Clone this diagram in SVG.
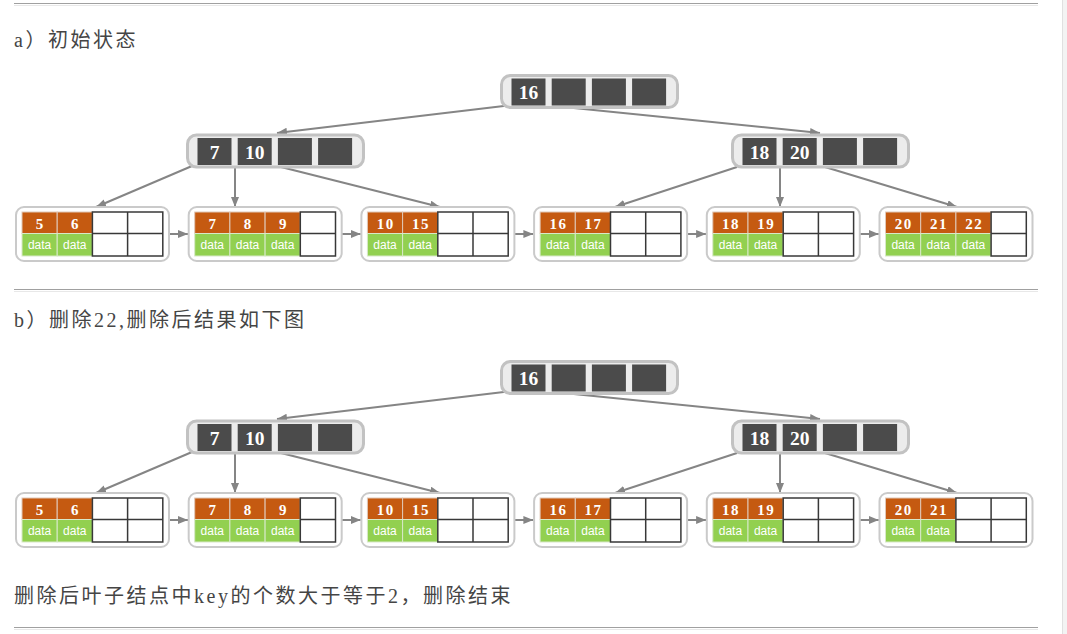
<svg xmlns="http://www.w3.org/2000/svg" width="1067" height="634" viewBox="0 0 1067 634">
<defs>
<marker id="ah" markerUnits="userSpaceOnUse" markerWidth="11" markerHeight="9" refX="10" refY="4" orient="auto">
<path d="M0,0 L10,4 L0,8 z" fill="#858585"/>
</marker>
<style>
.txt{font-family:"Liberation Serif","Noto Sans CJK SC",serif;font-size:20px;letter-spacing:2.5px;fill:#454545}
.hr1{stroke:#a0a0a0;stroke-width:1.2}
.hr2{stroke:#e8e8e8;stroke-width:1}
.nf{fill:#ececec;stroke:#c2c2c2;stroke-width:3}
.nc{fill:#4b4b4b}
.nt{font-family:"Liberation Serif",serif;font-weight:bold;font-size:19.5px;fill:#ffffff;text-anchor:middle}
.lf{fill:#ffffff;stroke:#cacaca;stroke-width:2}
.k{fill:#C55A11;stroke:#e0c8b8;stroke-width:1}
.d{fill:#92D050;stroke:#d8e8c8;stroke-width:1}
.kt{font-family:"Liberation Serif",serif;font-weight:bold;font-size:15px;letter-spacing:1.5px;fill:#ffffff;text-anchor:middle}
.dt{font-family:"Liberation Sans",sans-serif;font-size:12px;fill:#ffffff;text-anchor:middle}
.e{fill:#ffffff;stroke:#383838;stroke-width:1.5}
.eg{fill:none;stroke:#383838;stroke-width:1.5}
.cn{stroke:#858585;stroke-width:2;fill:none;marker-end:url(#ah)}
</style>
</defs>
<rect x="0" y="0" width="1067" height="634" fill="#ffffff"/>
<rect x="1062" y="0" width="5" height="634" fill="#f3f3f3"/>
<line x1="1062.5" y1="0" x2="1062.5" y2="634" stroke="#e0e0e0" stroke-width="1"/>

<g id="rules">
<line class="hr1" x1="14" y1="3.5" x2="1038" y2="3.5"/><line class="hr2" x1="14" y1="5.5" x2="1038" y2="5.5"/>
<line class="hr1" x1="14" y1="289.5" x2="1038" y2="289.5"/><line class="hr2" x1="14" y1="291.5" x2="1038" y2="291.5"/>
<line class="hr1" x1="14" y1="627.5" x2="1038" y2="627.5"/><line class="hr2" x1="14" y1="629.5" x2="1038" y2="629.5"/>
</g>

<g id="labels">
<text class="txt" x="14" y="47">a）初始状态</text>
<text class="txt" x="14" y="327">b）删除22,删除后结果如下图</text>
<text class="txt" x="14" y="603">删除后叶子结点中key的个数大于等于2，删除结束</text>
</g>

<!-- ===== Section a ===== -->
<g id="a-connectors">
<line class="cn" x1="508" y1="105.5" x2="277" y2="133"/>
<line class="cn" x1="549" y1="105.5" x2="820" y2="133"/>
<line class="cn" x1="192" y1="166" x2="96" y2="207"/>
<line class="cn" x1="235" y1="165" x2="235" y2="207"/>
<line class="cn" x1="277" y1="166" x2="440" y2="207"/>
<line class="cn" x1="737" y1="167" x2="615" y2="207"/>
<line class="cn" x1="780" y1="166" x2="780" y2="207"/>
<line class="cn" x1="825" y1="167" x2="957" y2="207"/>
<line class="cn" x1="169" y1="234" x2="188" y2="234"/>
<line class="cn" x1="341.7" y1="234" x2="360.7" y2="234"/>
<line class="cn" x1="514.4" y1="234" x2="533.4" y2="234"/>
<line class="cn" x1="687.1" y1="234" x2="706.1" y2="234"/>
<line class="cn" x1="859.8" y1="234" x2="878.8" y2="234"/>
</g>

<g id="a-root" transform="translate(500,74)">
<rect class="nf" x="1.5" y="1.5" width="176" height="32" rx="9"/>
<rect class="nc" x="11.5" y="4.5" width="34" height="27"/><rect class="nc" x="51.7" y="4.5" width="34" height="27"/><rect class="nc" x="91.9" y="4.5" width="34" height="27"/><rect class="nc" x="132.1" y="4.5" width="34" height="27"/>
<text class="nt" x="28.5" y="25">16</text>
</g>
<g id="a-int-left" transform="translate(186,133.5)">
<rect class="nf" x="1.5" y="1.5" width="176" height="32" rx="9"/>
<rect class="nc" x="11.5" y="4.5" width="34" height="27"/><rect class="nc" x="51.7" y="4.5" width="34" height="27"/><rect class="nc" x="91.9" y="4.5" width="34" height="27"/><rect class="nc" x="132.1" y="4.5" width="34" height="27"/>
<text class="nt" x="28.5" y="25">7</text><text class="nt" x="68.7" y="25">10</text>
</g>
<g id="a-int-right" transform="translate(731,133.5)">
<rect class="nf" x="1.5" y="1.5" width="176" height="32" rx="9"/>
<rect class="nc" x="11.5" y="4.5" width="34" height="27"/><rect class="nc" x="51.7" y="4.5" width="34" height="27"/><rect class="nc" x="91.9" y="4.5" width="34" height="27"/><rect class="nc" x="132.1" y="4.5" width="34" height="27"/>
<text class="nt" x="28.5" y="25">18</text><text class="nt" x="68.7" y="25">20</text>
</g>

<g id="a-leaf1" transform="translate(16,207)">
<rect class="lf" x="0" y="0" width="153" height="54" rx="8"/>
<rect class="k" x="6" y="5" width="35.2" height="21.5"/><rect class="k" x="41.2" y="5" width="35.2" height="21.5"/>
<rect class="d" x="6" y="26.5" width="35.2" height="22.5"/><rect class="d" x="41.2" y="26.5" width="35.2" height="22.5"/>
<rect class="e" x="76.4" y="5" width="70.4" height="44"/><path class="eg" d="M111.6,5V49M76.4,26.5H146.8"/>
<text class="kt" x="24.3" y="21.5">5</text><text class="kt" x="59.5" y="21.5">6</text>
<text class="dt" x="23.6" y="41.5">data</text><text class="dt" x="58.8" y="41.5">data</text>
</g>
<g id="a-leaf2" transform="translate(188.7,207)">
<rect class="lf" x="0" y="0" width="153" height="54" rx="8"/>
<rect class="k" x="6" y="5" width="35.2" height="21.5"/><rect class="k" x="41.2" y="5" width="35.2" height="21.5"/><rect class="k" x="76.4" y="5" width="35.2" height="21.5"/>
<rect class="d" x="6" y="26.5" width="35.2" height="22.5"/><rect class="d" x="41.2" y="26.5" width="35.2" height="22.5"/><rect class="d" x="76.4" y="26.5" width="35.2" height="22.5"/>
<rect class="e" x="111.6" y="5" width="35.2" height="44"/><path class="eg" d="M111.6,26.5H146.8"/>
<text class="kt" x="24.3" y="21.5">7</text><text class="kt" x="59.5" y="21.5">8</text><text class="kt" x="94.7" y="21.5">9</text>
<text class="dt" x="23.6" y="41.5">data</text><text class="dt" x="58.8" y="41.5">data</text><text class="dt" x="94" y="41.5">data</text>
</g>
<g id="a-leaf3" transform="translate(361.4,207)">
<rect class="lf" x="0" y="0" width="153" height="54" rx="8"/>
<rect class="k" x="6" y="5" width="35.2" height="21.5"/><rect class="k" x="41.2" y="5" width="35.2" height="21.5"/>
<rect class="d" x="6" y="26.5" width="35.2" height="22.5"/><rect class="d" x="41.2" y="26.5" width="35.2" height="22.5"/>
<rect class="e" x="76.4" y="5" width="70.4" height="44"/><path class="eg" d="M111.6,5V49M76.4,26.5H146.8"/>
<text class="kt" x="24.3" y="21.5">10</text><text class="kt" x="59.5" y="21.5">15</text>
<text class="dt" x="23.6" y="41.5">data</text><text class="dt" x="58.8" y="41.5">data</text>
</g>
<g id="a-leaf4" transform="translate(534.1,207)">
<rect class="lf" x="0" y="0" width="153" height="54" rx="8"/>
<rect class="k" x="6" y="5" width="35.2" height="21.5"/><rect class="k" x="41.2" y="5" width="35.2" height="21.5"/>
<rect class="d" x="6" y="26.5" width="35.2" height="22.5"/><rect class="d" x="41.2" y="26.5" width="35.2" height="22.5"/>
<rect class="e" x="76.4" y="5" width="70.4" height="44"/><path class="eg" d="M111.6,5V49M76.4,26.5H146.8"/>
<text class="kt" x="24.3" y="21.5">16</text><text class="kt" x="59.5" y="21.5">17</text>
<text class="dt" x="23.6" y="41.5">data</text><text class="dt" x="58.8" y="41.5">data</text>
</g>
<g id="a-leaf5" transform="translate(706.8,207)">
<rect class="lf" x="0" y="0" width="153" height="54" rx="8"/>
<rect class="k" x="6" y="5" width="35.2" height="21.5"/><rect class="k" x="41.2" y="5" width="35.2" height="21.5"/>
<rect class="d" x="6" y="26.5" width="35.2" height="22.5"/><rect class="d" x="41.2" y="26.5" width="35.2" height="22.5"/>
<rect class="e" x="76.4" y="5" width="70.4" height="44"/><path class="eg" d="M111.6,5V49M76.4,26.5H146.8"/>
<text class="kt" x="24.3" y="21.5">18</text><text class="kt" x="59.5" y="21.5">19</text>
<text class="dt" x="23.6" y="41.5">data</text><text class="dt" x="58.8" y="41.5">data</text>
</g>
<g id="a-leaf6" transform="translate(879.5,207)">
<rect class="lf" x="0" y="0" width="153" height="54" rx="8"/>
<rect class="k" x="6" y="5" width="35.2" height="21.5"/><rect class="k" x="41.2" y="5" width="35.2" height="21.5"/><rect class="k" x="76.4" y="5" width="35.2" height="21.5"/>
<rect class="d" x="6" y="26.5" width="35.2" height="22.5"/><rect class="d" x="41.2" y="26.5" width="35.2" height="22.5"/><rect class="d" x="76.4" y="26.5" width="35.2" height="22.5"/>
<rect class="e" x="111.6" y="5" width="35.2" height="44"/><path class="eg" d="M111.6,26.5H146.8"/>
<text class="kt" x="24.3" y="21.5">20</text><text class="kt" x="59.5" y="21.5">21</text><text class="kt" x="94.7" y="21.5">22</text>
<text class="dt" x="23.6" y="41.5">data</text><text class="dt" x="58.8" y="41.5">data</text><text class="dt" x="94" y="41.5">data</text>
</g>

<!-- ===== Section b ===== -->
<g id="b-connectors">
<line class="cn" x1="508" y1="391.5" x2="277" y2="419"/>
<line class="cn" x1="549" y1="391.5" x2="820" y2="419"/>
<line class="cn" x1="192" y1="452" x2="96" y2="493"/>
<line class="cn" x1="235" y1="451" x2="235" y2="493"/>
<line class="cn" x1="277" y1="452" x2="440" y2="493"/>
<line class="cn" x1="737" y1="453" x2="615" y2="493"/>
<line class="cn" x1="780" y1="452" x2="780" y2="493"/>
<line class="cn" x1="825" y1="453" x2="957" y2="493"/>
<line class="cn" x1="169" y1="520" x2="188" y2="520"/>
<line class="cn" x1="341.7" y1="520" x2="360.7" y2="520"/>
<line class="cn" x1="514.4" y1="520" x2="533.4" y2="520"/>
<line class="cn" x1="687.1" y1="520" x2="706.1" y2="520"/>
<line class="cn" x1="859.8" y1="520" x2="878.8" y2="520"/>
</g>

<g id="b-root" transform="translate(500,360)">
<rect class="nf" x="1.5" y="1.5" width="176" height="32" rx="9"/>
<rect class="nc" x="11.5" y="4.5" width="34" height="27"/><rect class="nc" x="51.7" y="4.5" width="34" height="27"/><rect class="nc" x="91.9" y="4.5" width="34" height="27"/><rect class="nc" x="132.1" y="4.5" width="34" height="27"/>
<text class="nt" x="28.5" y="25">16</text>
</g>
<g id="b-int-left" transform="translate(186,419.5)">
<rect class="nf" x="1.5" y="1.5" width="176" height="32" rx="9"/>
<rect class="nc" x="11.5" y="4.5" width="34" height="27"/><rect class="nc" x="51.7" y="4.5" width="34" height="27"/><rect class="nc" x="91.9" y="4.5" width="34" height="27"/><rect class="nc" x="132.1" y="4.5" width="34" height="27"/>
<text class="nt" x="28.5" y="25">7</text><text class="nt" x="68.7" y="25">10</text>
</g>
<g id="b-int-right" transform="translate(731,419.5)">
<rect class="nf" x="1.5" y="1.5" width="176" height="32" rx="9"/>
<rect class="nc" x="11.5" y="4.5" width="34" height="27"/><rect class="nc" x="51.7" y="4.5" width="34" height="27"/><rect class="nc" x="91.9" y="4.5" width="34" height="27"/><rect class="nc" x="132.1" y="4.5" width="34" height="27"/>
<text class="nt" x="28.5" y="25">18</text><text class="nt" x="68.7" y="25">20</text>
</g>

<g id="b-leaf1" transform="translate(16,493)">
<rect class="lf" x="0" y="0" width="153" height="54" rx="8"/>
<rect class="k" x="6" y="5" width="35.2" height="21.5"/><rect class="k" x="41.2" y="5" width="35.2" height="21.5"/>
<rect class="d" x="6" y="26.5" width="35.2" height="22.5"/><rect class="d" x="41.2" y="26.5" width="35.2" height="22.5"/>
<rect class="e" x="76.4" y="5" width="70.4" height="44"/><path class="eg" d="M111.6,5V49M76.4,26.5H146.8"/>
<text class="kt" x="24.3" y="21.5">5</text><text class="kt" x="59.5" y="21.5">6</text>
<text class="dt" x="23.6" y="41.5">data</text><text class="dt" x="58.8" y="41.5">data</text>
</g>
<g id="b-leaf2" transform="translate(188.7,493)">
<rect class="lf" x="0" y="0" width="153" height="54" rx="8"/>
<rect class="k" x="6" y="5" width="35.2" height="21.5"/><rect class="k" x="41.2" y="5" width="35.2" height="21.5"/><rect class="k" x="76.4" y="5" width="35.2" height="21.5"/>
<rect class="d" x="6" y="26.5" width="35.2" height="22.5"/><rect class="d" x="41.2" y="26.5" width="35.2" height="22.5"/><rect class="d" x="76.4" y="26.5" width="35.2" height="22.5"/>
<rect class="e" x="111.6" y="5" width="35.2" height="44"/><path class="eg" d="M111.6,26.5H146.8"/>
<text class="kt" x="24.3" y="21.5">7</text><text class="kt" x="59.5" y="21.5">8</text><text class="kt" x="94.7" y="21.5">9</text>
<text class="dt" x="23.6" y="41.5">data</text><text class="dt" x="58.8" y="41.5">data</text><text class="dt" x="94" y="41.5">data</text>
</g>
<g id="b-leaf3" transform="translate(361.4,493)">
<rect class="lf" x="0" y="0" width="153" height="54" rx="8"/>
<rect class="k" x="6" y="5" width="35.2" height="21.5"/><rect class="k" x="41.2" y="5" width="35.2" height="21.5"/>
<rect class="d" x="6" y="26.5" width="35.2" height="22.5"/><rect class="d" x="41.2" y="26.5" width="35.2" height="22.5"/>
<rect class="e" x="76.4" y="5" width="70.4" height="44"/><path class="eg" d="M111.6,5V49M76.4,26.5H146.8"/>
<text class="kt" x="24.3" y="21.5">10</text><text class="kt" x="59.5" y="21.5">15</text>
<text class="dt" x="23.6" y="41.5">data</text><text class="dt" x="58.8" y="41.5">data</text>
</g>
<g id="b-leaf4" transform="translate(534.1,493)">
<rect class="lf" x="0" y="0" width="153" height="54" rx="8"/>
<rect class="k" x="6" y="5" width="35.2" height="21.5"/><rect class="k" x="41.2" y="5" width="35.2" height="21.5"/>
<rect class="d" x="6" y="26.5" width="35.2" height="22.5"/><rect class="d" x="41.2" y="26.5" width="35.2" height="22.5"/>
<rect class="e" x="76.4" y="5" width="70.4" height="44"/><path class="eg" d="M111.6,5V49M76.4,26.5H146.8"/>
<text class="kt" x="24.3" y="21.5">16</text><text class="kt" x="59.5" y="21.5">17</text>
<text class="dt" x="23.6" y="41.5">data</text><text class="dt" x="58.8" y="41.5">data</text>
</g>
<g id="b-leaf5" transform="translate(706.8,493)">
<rect class="lf" x="0" y="0" width="153" height="54" rx="8"/>
<rect class="k" x="6" y="5" width="35.2" height="21.5"/><rect class="k" x="41.2" y="5" width="35.2" height="21.5"/>
<rect class="d" x="6" y="26.5" width="35.2" height="22.5"/><rect class="d" x="41.2" y="26.5" width="35.2" height="22.5"/>
<rect class="e" x="76.4" y="5" width="70.4" height="44"/><path class="eg" d="M111.6,5V49M76.4,26.5H146.8"/>
<text class="kt" x="24.3" y="21.5">18</text><text class="kt" x="59.5" y="21.5">19</text>
<text class="dt" x="23.6" y="41.5">data</text><text class="dt" x="58.8" y="41.5">data</text>
</g>
<g id="b-leaf6" transform="translate(879.5,493)">
<rect class="lf" x="0" y="0" width="153" height="54" rx="8"/>
<rect class="k" x="6" y="5" width="35.2" height="21.5"/><rect class="k" x="41.2" y="5" width="35.2" height="21.5"/>
<rect class="d" x="6" y="26.5" width="35.2" height="22.5"/><rect class="d" x="41.2" y="26.5" width="35.2" height="22.5"/>
<rect class="e" x="76.4" y="5" width="70.4" height="44"/><path class="eg" d="M111.6,5V49M76.4,26.5H146.8"/>
<text class="kt" x="24.3" y="21.5">20</text><text class="kt" x="59.5" y="21.5">21</text>
<text class="dt" x="23.6" y="41.5">data</text><text class="dt" x="58.8" y="41.5">data</text>
</g>
</svg>
